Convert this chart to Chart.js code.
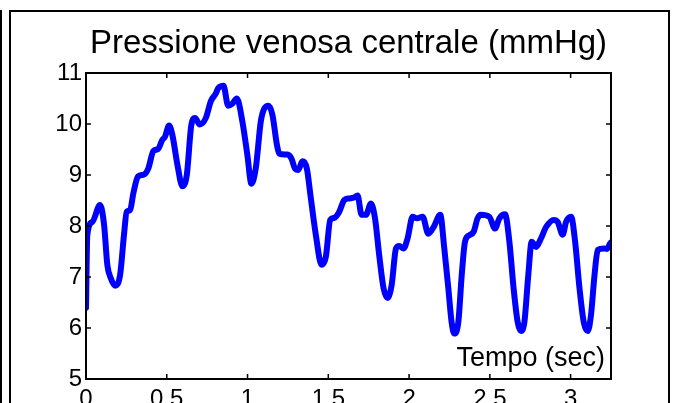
<!DOCTYPE html>
<html><head><meta charset="utf-8">
<script src="https://cdn.jsdelivr.net/npm/chart.js@4"></script>
<style>html,body{margin:0;padding:0;background:#fff}#wrap{width:676px;height:403px;position:relative}</style>
</head><body><div id="wrap"><canvas id="c" width="676" height="403"></canvas></div>
<script>
const titleText = "Pressione venosa centrale (mmHg)";
const xLabelText = "Tempo (sec)";
const xTicks = [0, 0.5, 1, 1.5, 2, 2.5, 3];
const yTicks = [5, 6, 7, 8, 9, 10, 11];
const times = [0.000,0.008,0.039,0.087,0.112,0.132,0.153,0.180,0.211,0.235,0.252,0.273,0.293,0.322,0.359,0.386,0.417,0.446,0.473,0.489,0.514,0.535,0.566,0.597,0.624,0.652,0.675,0.704,0.742,0.773,0.804,0.818,0.851,0.880,0.906,0.934,0.968,0.999,1.024,1.051,1.082,1.103,1.130,1.154,1.182,1.196,1.247,1.272,1.295,1.314,1.340,1.367,1.392,1.423,1.458,1.485,1.512,1.537,1.568,1.599,1.629,1.660,1.681,1.706,1.733,1.764,1.789,1.815,1.842,1.867,1.892,1.919,1.939,1.966,1.991,2.022,2.049,2.084,2.119,2.152,2.193,2.218,2.243,2.263,2.280,2.305,2.326,2.346,2.373,2.400,2.424,2.445,2.497,2.532,2.559,2.594,2.621,2.647,2.672,2.693,2.714,2.738,2.759,2.786,2.817,2.848,2.896,2.920,2.951,2.972,3.003,3.028,3.055,3.081,3.106,3.126,3.148,3.168,3.205,3.226,3.244,3.250];
const pressure = [6.40,7.82,8.08,8.41,8.02,7.24,6.98,6.83,7.04,7.82,8.28,8.31,8.64,8.97,9.01,9.13,9.47,9.51,9.69,9.75,9.97,9.78,9.20,8.78,9.00,9.98,10.12,9.99,10.12,10.45,10.60,10.70,10.75,10.36,10.40,10.50,10.05,9.39,8.83,9.13,10.05,10.30,10.36,10.18,9.59,9.42,9.40,9.32,9.12,9.10,9.27,9.13,8.54,7.82,7.24,7.40,8.12,8.16,8.28,8.51,8.54,8.56,8.60,8.22,8.22,8.44,8.15,7.43,6.78,6.59,6.84,7.56,7.61,7.56,7.76,8.18,8.15,8.18,7.85,7.98,8.22,7.56,6.78,6.12,5.89,6.12,7.04,7.69,7.82,7.89,8.15,8.22,8.18,7.95,8.15,8.23,7.69,6.78,6.12,5.94,6.12,7.04,7.69,7.59,7.76,7.98,8.12,8.08,7.83,8.08,8.18,7.69,6.78,6.12,5.94,6.25,7.04,7.53,7.56,7.55,7.66,7.68];

const FONT = "'Liberation Sans', Arial, Helvetica, sans-serif";

const framePlugin = {
  id: 'frame',
  beforeDraw(chart) {
    const ctx = chart.ctx;
    ctx.save();
    ctx.fillStyle = '#fff';
    ctx.fillRect(0, 0, chart.width, chart.height);
    ctx.strokeStyle = '#000';
    ctx.lineWidth = 2;
    ctx.beginPath();
    ctx.moveTo(1, 10); ctx.lineTo(1, 410);
    ctx.moveTo(10, 410); ctx.lineTo(10, 11); ctx.lineTo(669, 11); ctx.lineTo(669, 410);
    ctx.stroke();
    ctx.restore();
  },
  afterDatasetsDraw(chart) {
    const ctx = chart.ctx;
    const a = chart.chartArea;
    const xs = chart.scales.x, ys = chart.scales.y;
    ctx.save();
    ctx.strokeStyle = '#000';
    ctx.lineWidth = 2;
    ctx.strokeRect(a.left, a.top, a.right - a.left, a.bottom - a.top);
    ctx.lineWidth = 1.5;
    ctx.beginPath();
    const L = 5;
    xs.ticks.forEach(t => {
      const px = xs.getPixelForValue(t.value);
      ctx.moveTo(px, a.bottom); ctx.lineTo(px, a.bottom - L);
      ctx.moveTo(px, a.top); ctx.lineTo(px, a.top + L);
    });
    ys.ticks.forEach(t => {
      const py = ys.getPixelForValue(t.value);
      ctx.moveTo(a.left, py); ctx.lineTo(a.left + L, py);
      ctx.moveTo(a.right, py); ctx.lineTo(a.right - L, py);
    });
    ctx.stroke();
    ctx.fillStyle = '#000';
    ctx.font = '27px ' + FONT;
    ctx.textAlign = 'right';
    ctx.textBaseline = 'alphabetic';
    ctx.fillText(xLabelText, a.right - 6, a.bottom - 13);
    ctx.restore();
  }
};

new Chart(document.getElementById('c'), {
  type: 'line',
  data: {
    datasets: [{
      data: times.map((t, i) => ({x: t, y: pressure[i]})),
      borderColor: '#0000ff',
      borderWidth: 6,
      pointRadius: 0,
      cubicInterpolationMode: 'monotone',
      borderCapStyle: 'round',
      borderJoinStyle: 'round',
      fill: false
    }]
  },
  options: {
    responsive: false,
    animation: false,
    devicePixelRatio: 1,
    layout: {padding: {left: 0, right: 65, top: 0, bottom: 0}},
    plugins: {
      legend: {display: false},
      tooltip: {enabled: false},
      title: {
        display: true,
        fullSize: false,
        text: titleText,
        color: '#000',
        font: {family: FONT, size: 33, weight: 'normal', lineHeight: 1.2},
        padding: {top: 24, bottom: 9.4}
      }
    },
    scales: {
      x: {
        type: 'linear',
        min: 0, max: 3.25,
        afterBuildTicks: s => { s.ticks = xTicks.map(v => ({value: v})); },
        afterFit: s => { s.height = 403 - 379; },
        grid: {display: false, drawTicks: false},
        border: {display: false},
        ticks: {color: '#000', font: {family: FONT, size: 24}, padding: 6, maxRotation: 0, autoSkip: false, includeBounds: false,
                callback: v => String(v)}
      },
      y: {
        type: 'linear',
        min: 5, max: 11,
        afterBuildTicks: s => { s.ticks = yTicks.map(v => ({value: v})); },
        afterFit: s => { s.width = 86; },
        grid: {display: false, drawTicks: false},
        border: {display: false},
        ticks: {color: '#000', font: {family: FONT, size: 24}, padding: 4, autoSkip: false,
                callback: v => String(v)}
      }
    }
  },
  plugins: [framePlugin]
});
</script>
</body></html>
